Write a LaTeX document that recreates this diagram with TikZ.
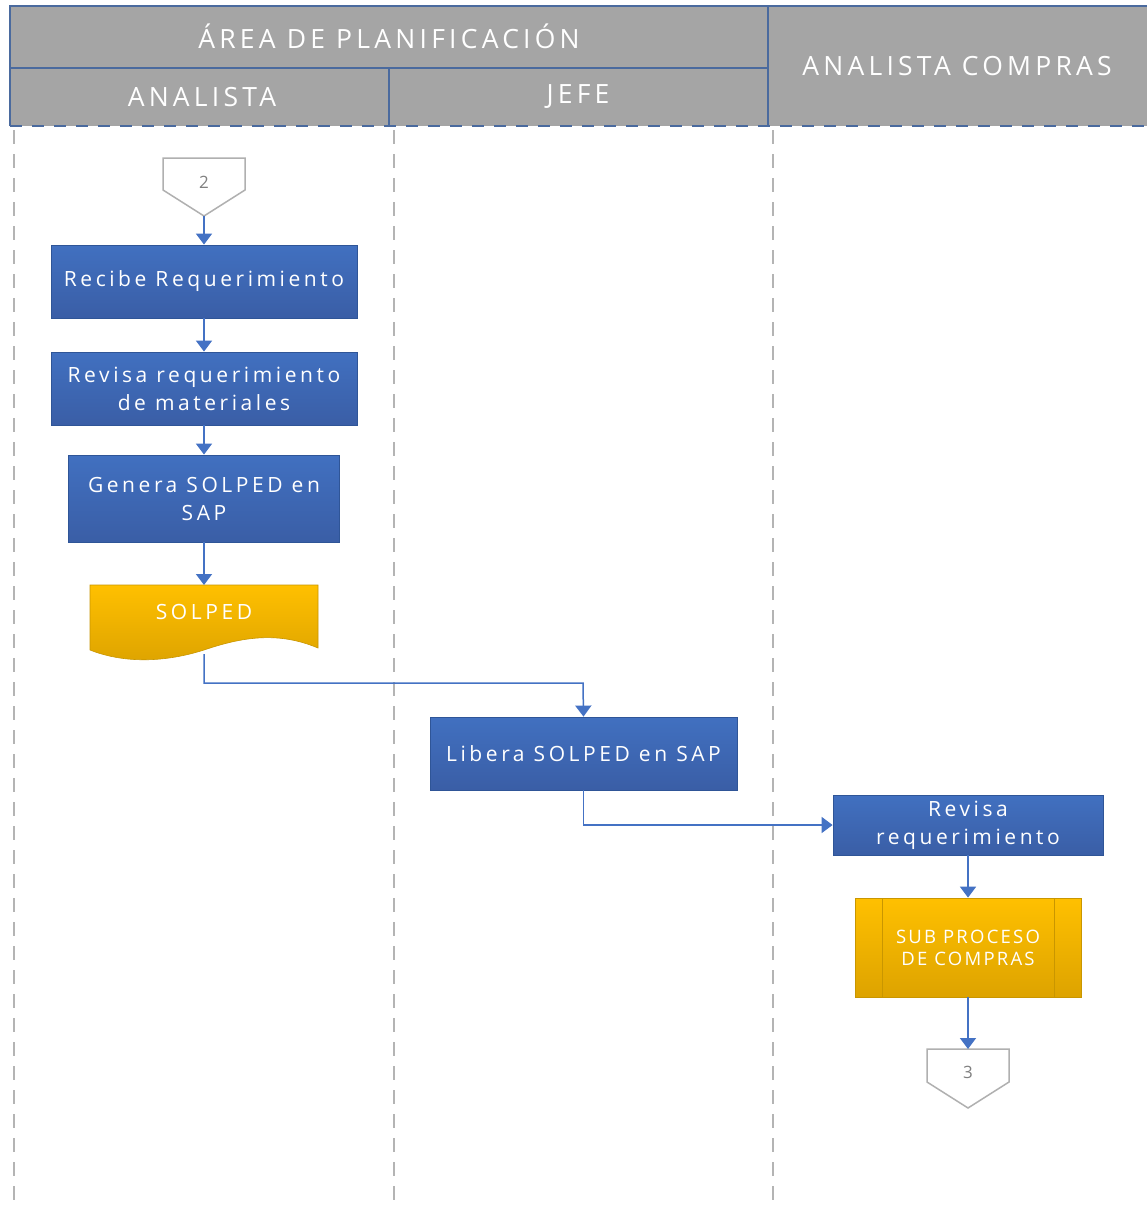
\documentclass[tikz,border=0pt]{standalone}
\usepackage{fontspec}
\setmainfont{Open Sans}
\newfontfamily\lanefont[LetterSpace=16]{Open Sans}
\newfontfamily\boxfont[LetterSpace=17]{Open Sans}
\newfontfamily\subfont[LetterSpace=12]{Open Sans}
\usetikzlibrary{arrows.meta}
\definecolor{hdrgray}{HTML}{A5A5A5}
\definecolor{hdrline}{HTML}{4A6A9E}
\definecolor{procblue}{HTML}{4170C0}
\definecolor{procdark}{HTML}{3A5EA6}
\definecolor{procedge}{HTML}{2F5597}
\definecolor{docgold}{HTML}{FFC000}
\definecolor{docdark}{HTML}{DDA300}
\definecolor{goldedge}{HTML}{C99600}
\definecolor{flowblue}{HTML}{4472C4}
\definecolor{laneline}{HTML}{B4B4B4}
\definecolor{pagegray}{HTML}{B0B0B0}
\tikzset{
  header/.style={fill=hdrgray},
  hdrtext/.style={text=white, inner sep=0pt, font=\lanefont\fontsize{26.5}{28}\selectfont},
  hdredge/.style={draw=hdrline, line width=1.5pt},
  process/.style={draw=procedge, line width=0.8pt, top color=procblue, bottom color=procdark,
    text=white, align=center, font=\boxfont\fontsize{21}{28}\selectfont, inner sep=0pt},
  flow/.style={draw=flowblue, line width=1.8pt, -{Triangle[length=11pt,width=16pt]}},
  divider/.style={draw=laneline, line width=2pt, dash pattern=on 14pt off 10pt},
  pagelabel/.style={text=gray, font=\fontsize{17}{20}\selectfont, inner sep=0pt}
}
\begin{document}
\begin{tikzpicture}[x=1pt,y=-1pt]
\useasboundingbox (0,0) rectangle (1147,1207);
\fill[white] (0,0) rectangle (1147,1207);

% lane dividers
\draw[divider] (14,130) -- (14,1207);
\draw[divider] (394,130) -- (394,1207);
\draw[divider] (773,130) -- (773,1207);

% header cells: solid top and sides, dashed lower edge
\fill[header] (10,6) rectangle (1150,126);
\draw[hdredge] (10,126) -- (10,6) -- (1150,6);
\draw[hdredge] (10,68) -- (768,68);
\draw[hdredge] (389,68) -- (389,126);
\draw[hdredge] (768,6) -- (768,126);
\draw[draw=hdrline, line width=2.2pt, dash pattern=on 12pt off 10pt] (10,126) -- (1147,126);
\node[hdrtext] (area) at (389,36) {ÁREA DE PLANIFICACIÓN};
\node[hdrtext] (lanea) at (202,97) {ANALISTA};
\node[hdrtext] (lanej) at (578,97) {JEFE};
\node[hdrtext] (lanec) at (957,66) {ANALISTA COMPRAS};

% off-page connector 2
\draw[pagegray, line width=1.5pt, fill=white] (163,158) -- (245,158) -- (245,190) -- (204,216) -- (163,190) -- cycle;
\node[pagelabel] (p2) at (204,182) {2};
\coordinate (p2tip) at (204,216);

% process steps
\node[process, minimum width=306pt, minimum height=73pt] (recibe) at (204,281.5) {Recibe Requerimiento};
\node[process, minimum width=306pt, minimum height=73pt] (revisa) at (204,388.5) {Revisa requerimiento\\de materiales};
\node[process, minimum width=271pt, minimum height=87pt] (genera) at (204,498.5) {Genera SOLPED en\\SAP};

% document SOLPED
\path[draw=goldedge, line width=0.6pt, top color=docgold, bottom color=docdark]
  (90,585) -- (318,585) -- (318,648)
  .. controls (280,632) and (245,636) .. (204,650)
  .. controls (160,664) and (120,662) .. (90,650) -- cycle;
\node[text=white, font=\boxfont\fontsize{21}{22}\selectfont, inner sep=0pt] (solped) at (204,612) {SOLPED};
\coordinate (solpedbot) at (204,654);

\node[process, minimum width=307pt, minimum height=73pt] (libera) at (583.5,753.5) {Libera SOLPED en SAP};
\node[process, minimum width=270pt, minimum height=60pt] (revreq) at (968,825) {Revisa\\requerimiento};

% sub-process
\node[draw=goldedge, line width=0.8pt, top color=docgold, bottom color=docdark,
  minimum width=226pt, minimum height=99pt, inner sep=0pt, text=white, align=center,
  font=\subfont\fontsize{18.5}{22}\selectfont] (sub) at (968,947.5) {SUB PROCESO\\DE COMPRAS};
\draw[goldedge, line width=0.8pt] (882,898) -- (882,997);
\draw[goldedge, line width=0.8pt] (1054,898) -- (1054,997);

% off-page connector 3
\draw[pagegray, line width=1.5pt, fill=white] (927,1049) -- (1009,1049) -- (1009,1082) -- (968,1108) -- (927,1082) -- cycle;
\node[pagelabel] (p3) at (968,1072) {3};
\coordinate (p3top) at (968,1049);

% connectors
\draw[flow] (p2tip) -- (recibe.north);
\draw[flow] (recibe.south) -- (revisa.north);
\draw[flow] (revisa.south) -- (genera.north);
\draw[flow] (genera.south) -- (204,585);
\draw[flow, line width=1.5pt] (solpedbot) |- (583,683) -- (libera.north);
\draw[flow, line width=1.5pt] (libera.south) |- (revreq.west);
\draw[flow] (revreq.south) -- (sub.north);
\draw[flow] (sub.south) -- (p3top);
\end{tikzpicture}
\end{document}
